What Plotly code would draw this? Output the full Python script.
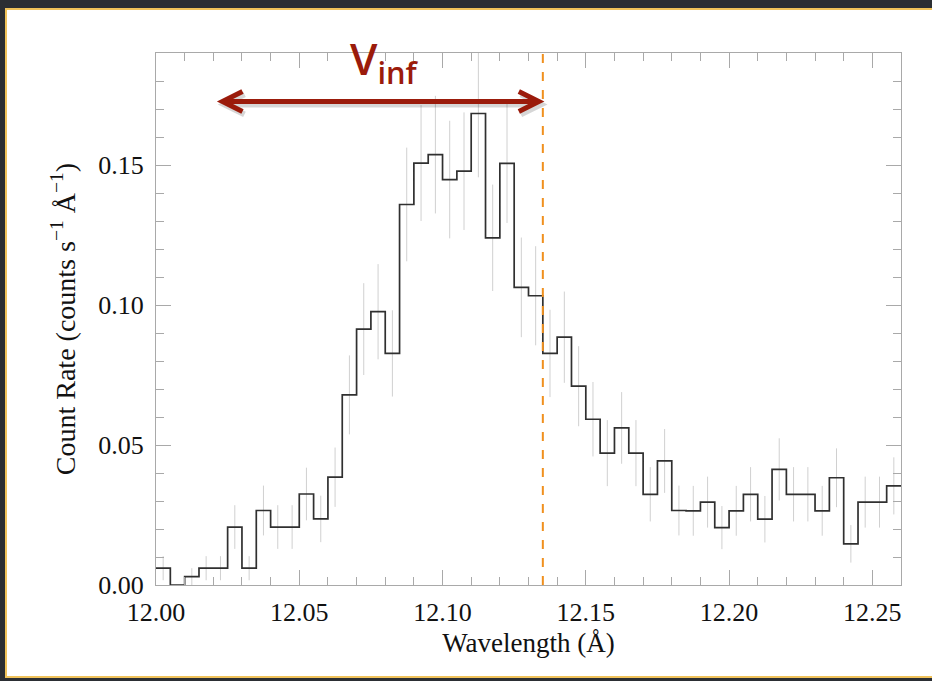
import numpy as np
import plotly.graph_objects as go

# ---- data -------------------------------------------------------------
bin_start = 12.0          # Å, left edge of first bin
bin_width = 0.005         # Å
count_rate = [0.006, 0.000, 0.003, 0.006, 0.006, 0.0207, 0.006, 0.0266, 0.0207, 0.0207,
              0.0325, 0.0236, 0.0385, 0.0679, 0.0914, 0.0976, 0.0827, 0.1359, 0.1507, 0.1537,
              0.1448, 0.1478, 0.1684, 0.1240, 0.1506, 0.1063, 0.1033, 0.0827, 0.0885, 0.0710,
              0.0592, 0.0471, 0.0561, 0.0471, 0.0324, 0.0443, 0.0266, 0.0265, 0.0296, 0.0205,
              0.0265, 0.0324, 0.0235, 0.0413, 0.0324, 0.0324, 0.0265, 0.0383, 0.0147, 0.0296,
              0.0296, 0.0354]
count_err = [0.0043, 0.0, 0.003, 0.0043, 0.0043, 0.0078, 0.0043, 0.0089, 0.0078, 0.0078,
             0.0094, 0.0083, 0.0106, 0.0141, 0.0164, 0.017, 0.0154, 0.0203, 0.0207, 0.021,
             0.021, 0.021, 0.0228, 0.019, 0.0213, 0.0178, 0.0177, 0.0156, 0.0163, 0.0143,
             0.0133, 0.0118, 0.0128, 0.0118, 0.0097, 0.0114, 0.0089, 0.0089, 0.0091, 0.0077,
             0.0089, 0.0097, 0.0083, 0.0111, 0.0097, 0.0097, 0.0089, 0.0105, 0.0067, 0.0091,
             0.0091, 0.0102]
v_inf_line = 12.135              # Å, dashed marker
arrow_x = [12.0232, 12.1336]     # Å, V_inf arrow extent
arrow_y = 0.1727

n = len(count_rate)
edges = np.round(bin_start + bin_width * np.arange(n + 1), 4)
centers = np.round(edges[:-1] + bin_width / 2, 4)

# ---- geometry helpers (pixel -> paper) ---------------------------------
W, H = 932, 681
L, R, T, B = 156, 31, 53, 96
pw, ph = W - L - R, H - T - B
def px(X): return (X - L) / pw
def py(Y): return (H - B - Y) / ph

DARK = "#2b2e33"
GOLD = "#f0c25a"
RED = "#9b1b0b"
AX = "#a9a9a9"
SERIF = "Liberation Serif"

fig = go.Figure()

# error bars
fig.add_trace(go.Scatter(
    x=centers, y=count_rate, mode="markers",
    marker=dict(size=1, color="rgba(0,0,0,0)"),
    error_y=dict(type="data", array=count_err, color="#d0d0d0", thickness=1, width=0),
    hoverinfo="skip", showlegend=False))

# histogram
fig.add_trace(go.Scatter(
    x=edges, y=count_rate + [count_rate[-1]], mode="lines",
    line=dict(shape="hv", color="#303030", width=1.7),
    showlegend=False))

shapes = []
# frame: dark bands top / left / bottom with a golden rule
def band(X0, X1, Y0, Y1, color):
    return dict(type="rect", xref="paper", yref="paper", layer="below",
                x0=px(X0), x1=px(X1), y0=py(Y1), y1=py(Y0),
                fillcolor=color, line=dict(width=0))
shapes += [band(-5, 940, -5, 8, DARK), band(-5, 5, -5, 690, DARK), band(-5, 940, 678, 690, DARK),
           band(5, 940, 8, 10, GOLD), band(5, 7, 8, 678, GOLD), band(5, 940, 676, 678, GOLD)]
# dashed vertical line
shapes.append(dict(type="line", xref="x", yref="paper", x0=v_inf_line, x1=v_inf_line,
                   y0=0, y1=1, line=dict(color="#f0901e", width=2, dash="dash")))

# double-headed arrow (shaft + open chevrons), with a soft shadow
dx_head = 20.0 / (pw / 0.26)
dy_head = 10.0 / (ph / 0.19)
def arrow_path(ox, oy):
    x0, x1 = arrow_x[0] + ox, arrow_x[1] + ox
    y = arrow_y + oy
    return (f"M{x0},{y} L{x1},{y} "
            f"M{x0 + dx_head},{y + dy_head} L{x0},{y} L{x0 + dx_head},{y - dy_head} "
            f"M{x1 - dx_head},{y + dy_head} L{x1},{y} L{x1 - dx_head},{y - dy_head}")
sx = 2.0 / (pw / 0.26)
sy = -3.0 / (ph / 0.19)
shapes.append(dict(type="path", xref="x", yref="y", path=arrow_path(sx, sy),
                   line=dict(color="rgba(0,0,0,0.16)", width=6)))
shapes.append(dict(type="path", xref="x", yref="y", path=arrow_path(0, 0),
                   line=dict(color=RED, width=5)))

annotations = [dict(
    x=12.0798, y=py(60), xref="x", yref="paper", xanchor="center", yanchor="middle",
    text="V<sub>inf</sub>", showarrow=False,
    font=dict(family="Open Sans", size=44, color=RED, weight=600))]

axis_common = dict(
    showline=True, linecolor=AX, linewidth=1, mirror="ticks",
    ticks="inside", ticklen=15, tickcolor=AX, tickwidth=1,
    showgrid=False, zeroline=False,
    tickfont=dict(family=SERIF, size=26, color="#111111"),
)

fig.update_layout(
    width=W, height=H,
    margin=dict(l=L, r=R, t=T, b=B, autoexpand=False),
    paper_bgcolor="white", plot_bgcolor="rgba(0,0,0,0)",
    shapes=shapes, annotations=annotations,
    xaxis=dict(range=[12.0, 12.26], dtick=0.05, tick0=12.0, tickformat=".2f",
               minor=dict(dtick=0.01, ticklen=8, tickcolor=AX, ticks="inside"),
               ticklabelstandoff=4,
               title=dict(text="Wavelength (Å)", font=dict(family=SERIF, size=27, color="#111111"),
                          standoff=6),
               **axis_common),
    yaxis=dict(range=[0, 0.19], dtick=0.05, tick0=0, tickformat=".2f",
               minor=dict(dtick=0.01, ticklen=8, tickcolor=AX, ticks="inside"),
               ticklabelstandoff=6,
               title=dict(text="Count Rate (counts s<sup>−1</sup> Å<sup>−1</sup>)",
                          font=dict(family=SERIF, size=28, color="#111111"), standoff=14),
               **axis_common),
)

fig.write_html("out.html")
